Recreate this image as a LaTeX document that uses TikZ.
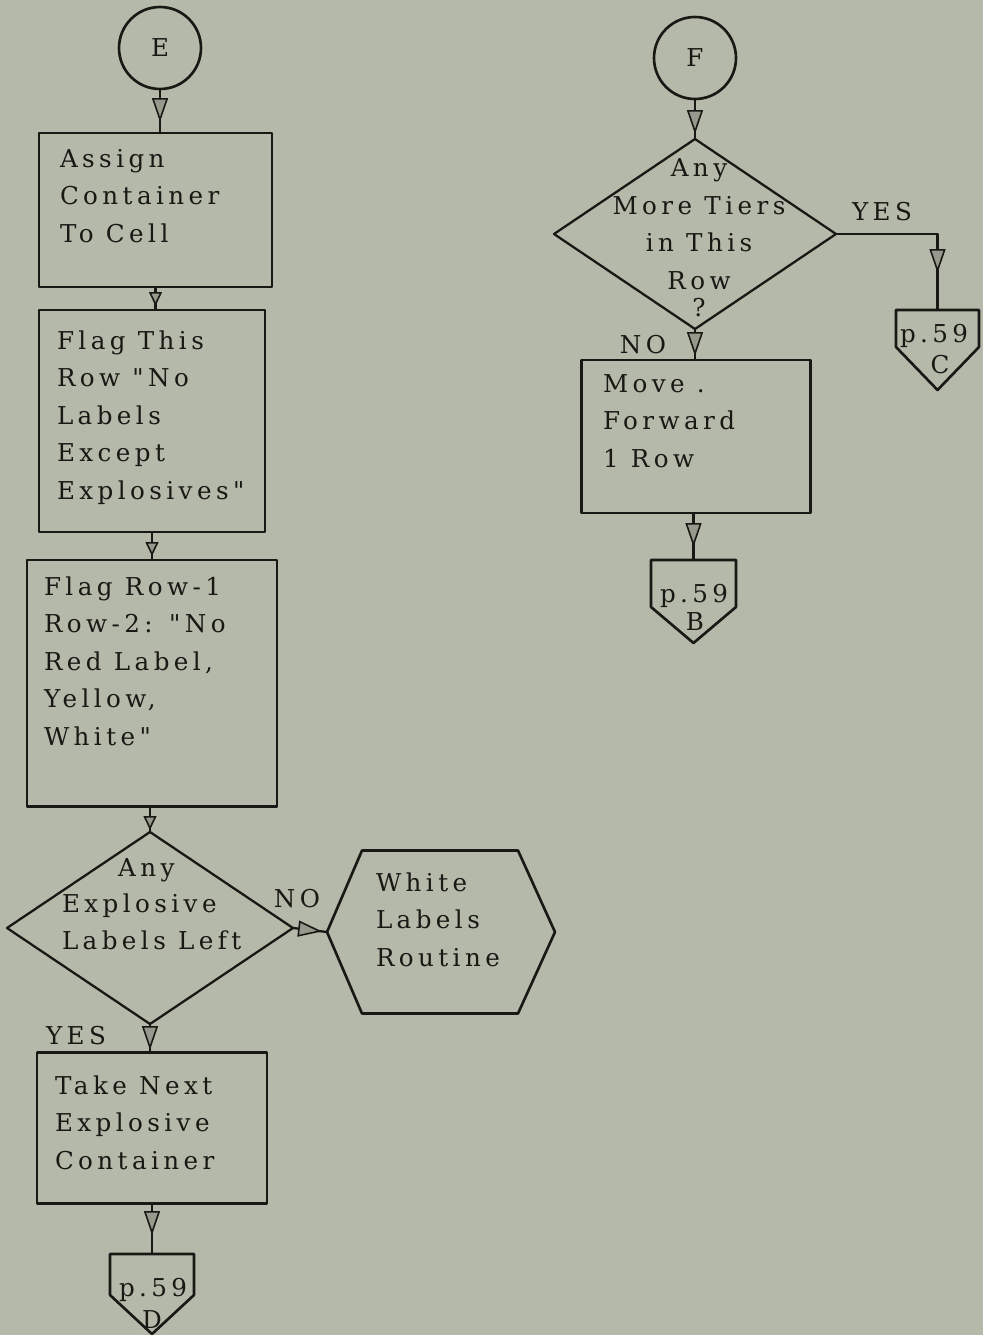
\documentclass[tikz,border=0pt]{standalone}
\usepackage{fontspec}
\setmainfont{DejaVu Serif}[LetterSpace=18,Ligatures=TeXOff]
\usetikzlibrary{shapes.geometric,arrows.meta,decorations.markings,calc}
\definecolor{paper}{RGB}{181,185,169}
\definecolor{ink}{RGB}{24,24,20}
\definecolor{tipfill}{RGB}{150,153,140}
\def\pxu{0.02cm}
\tikzset{
  flowtip/.tip={Triangle[length=0.48cm,width=0.32cm,fill=tipfill,line width=0.9pt]},
  smalltip/.tip={Triangle[length=0.28cm,width=0.26cm,fill=tipfill,line width=0.9pt]},
}
\begin{document}
\begin{tikzpicture}[x=0.02cm,y=-0.02cm,line join=round,
  every node/.style={inner sep=0pt,outer sep=0pt,text=ink},
  % multi-line texts are placed by the baseline of their last line
  txt/.style={font=\fontsize{14}{21.3}\selectfont,align=left,anchor=base west},
  ctxt/.style={font=\fontsize{14}{21.3}\selectfont,align=center,anchor=base},
  procbox/.style={draw=ink,line width=1.7pt,rectangle},
  decision/.style={draw=ink,line width=1.3pt,diamond},
  joint/.style={draw=ink,line width=1.5pt,circle,minimum size=82*\pxu,
    font=\fontsize{14}{16}\selectfont},
  pagetop/.style={rectangle},
  outline/.style={draw=ink,line width=1.5pt},
  flowline/.style={draw=ink,line width=1.3pt},
  flow/.style={flowline,postaction={decorate},
    decoration={markings,mark=at position #1 with {\arrow{flowtip}}}},
  flows/.style={flowline,postaction={decorate},
    decoration={markings,mark=at position #1 with {\arrow{smalltip}}}},
]
% paper
\fill[paper] (0,0) rectangle (983,1335);
\useasboundingbox (0,0) rectangle (983,1335);

% ---------------- left column ----------------
\node[joint] (E) at (160,48) {E};

\node[procbox,minimum width=233*\pxu,minimum height=154*\pxu] (b1) at (155.5,210) {};
\node[txt] (b1t) at (60,242) {Assign\\Container\\To Cell};

\node[procbox,minimum width=226*\pxu,minimum height=222*\pxu] (b2) at (152,421) {};
\node[txt] (b2t) at (57,499) {Flag This\\Row "No\\Labels\\Except\\Explosives"};

\node[procbox,minimum width=250*\pxu,minimum height=246*\pxu] (b3) at (152,683) {};
\node[txt] (b3t) at (44,745) {Flag Row-1\\Row-2: "No\\Red Label,\\Yellow,\\White"};

\node[decision,minimum width=286*\pxu,minimum height=192*\pxu] (d1) at (150,928) {};
\node[txt,font=\fontsize{14}{20.5}\selectfont] (d1t) at (62,949) {\hspace*{32pt}Any\\Explosive\\Labels Left};

\node[minimum width=228*\pxu,minimum height=163*\pxu] (hex) at (441,932) {};
\draw[outline] (hex.west) -- ($(hex.north west)+(35,0)$) -- ($(hex.north east)+(-37,0)$)
  -- (hex.east) -- ($(hex.south east)+(-37,0)$) -- ($(hex.south west)+(35,0)$) -- cycle;
\node[txt] (hext) at (376,966) {White\\Labels\\Routine};

\node[procbox,minimum width=230*\pxu,minimum height=151*\pxu] (b4) at (152,1127.5) {};
\node[txt] (b4t) at (55,1169) {Take Next\\Explosive\\Container};

\node[pagetop,minimum width=84*\pxu,minimum height=41*\pxu] (D) at (152,1274.5) {};
\draw[outline] (D.north west) -- (D.north east) -- (D.south east)
  -- ($(D.south)+(0,39)$) -- (D.south west) -- cycle;
\node[txt] (Dt) at (119,1296) {p.59};
\node[ctxt] (Dl) at (152,1328) {D};

\node[ctxt] (yes1) at (76,1044) {YES};
\node[ctxt] (no1) at (297,907) {NO};

% ---------------- right column ----------------
\node[joint] (F) at (695,58) {F};

\node[decision,minimum width=282*\pxu,minimum height=190*\pxu] (d2) at (695,234) {};
\node[ctxt] (d2t) at (699,316) {Any\\More Tiers\\in This\\Row\\[-6pt]?};

\node[ctxt] (yes2) at (882,220) {YES};
\node[ctxt] (no2) at (643,353) {NO};

\node[procbox,minimum width=229*\pxu,minimum height=153*\pxu] (mv) at (695.5,436.5) {};
\node[txt] (mvt) at (603,467) {Move .\\Forward\\1 Row};

\node[pagetop,minimum width=83*\pxu,minimum height=37*\pxu] (C) at (937.5,328.5) {};
\draw[outline] (C.north west) -- (C.north east) -- (C.south east)
  -- ($(C.south)+(0,43)$) -- (C.south west) -- cycle;
\node[txt] (Ct) at (900,342) {p.59};
\node[ctxt] (Cl) at (940,373) {C};

\node[pagetop,minimum width=85*\pxu,minimum height=47*\pxu] (B) at (693.5,583.5) {};
\draw[outline] (B.north west) -- (B.north east) -- (B.south east)
  -- ($(B.south)+(0,36)$) -- (B.south west) -- cycle;
\node[txt] (Bt) at (660,602) {p.59};
\node[ctxt] (Bl) at (695,630) {B};

% ---------------- connectors ----------------
\draw[flow=-0.22cm] (E.south) -- (E.south |- b1.north);
\draw[flows=-0.08cm] (b1.south) -- (b1.south |- b2.north);
\draw[flows=-0.08cm] (b2.south) -- (b2.south |- b3.north);
\draw[flows=-0.04cm] (d1.north |- b3.south) -- (d1.north);
\draw[flow=-0.04cm] (d1.south) -- (d1.south |- b4.north);
\draw[flow=-0.1cm] (d1.east) -- (hex.west);
\draw[flow=-0.38cm] (b4.south) -- (D.north);

\draw[flow=-0.1cm] (F.south) -- (d2.north);
\draw[flow=-0.08cm] (d2.south) -- (d2.south |- mv.north);
\draw[flow=-0.74cm] (d2.east) -| (C.north);
\draw[flow=-0.26cm] (B.north |- mv.south) -- (B.north);
\end{tikzpicture}
\end{document}
